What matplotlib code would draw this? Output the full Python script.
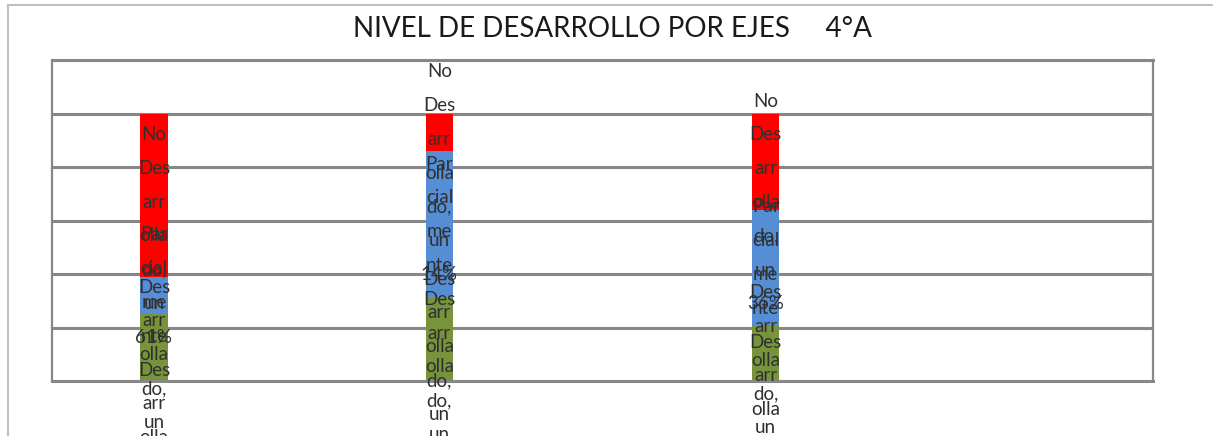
import numpy as np
import matplotlib
matplotlib.use("Agg")
import matplotlib.pyplot as plt
from matplotlib.patches import Rectangle

# --- datos ---
series = ["Desarrollado", "Parcialmente Desarrollado", "No Desarrollado"]
colores = ["#77933C", "#558ED5", "#FF0000"]
desarrollado = [25, 31, 21]
parcial = [14, 55, 43]
no_desarrollado = [61, 14, 36]
valores = [desarrollado, parcial, no_desarrollado]

titulo = "NIVEL DE DESARROLLO POR EJES     4°A"
y_ticks = [0, 20, 40, 60, 80, 100, 120]

# posicion de cada barra dentro de las 27 ranuras del eje
ranuras = 27
slot = [2, 9, 17]

# ancho aproximado de cada letra (en "letras normales")
angosta = set("lij,.'")
ancha = set("mwMW")


def partir(palabra, limite=3.0):
    trozos, actual, ancho = [], "", 0.0
    for c in palabra:
        w = 0.5 if c in angosta else 1.5 if c in ancha else 1.0
        if actual and ancho + w > limite:
            trozos.append(actual)
            actual, ancho = "", 0.0
        actual += c
        ancho += w
    if actual:
        trozos.append(actual)
    return trozos


def etiqueta(nombre, v):
    # Excel parte la etiqueta casi letra por letra porque la barra es muy angosta
    txt = f"{nombre}, un {v}%"
    lineas = []
    for palabra in txt.split():
        lineas += partir(palabra)
    return "\n".join(lineas)


fig = plt.figure(figsize=(12.13, 4.36), dpi=100)
fig.patch.set_facecolor("white")

# marco del grafico
fig.patches.append(Rectangle((8 / 1213, -0.1), 1.2, 1.1 - 5 / 436,
                             transform=fig.transFigure, fill=False,
                             edgecolor="#BFBFBF", linewidth=1.5))

ax = fig.add_axes([52 / 1213, 1 - 381 / 436, 1101 / 1213, 321 / 436])
ax.set_xlim(-0.5, ranuras - 0.5)
ax.set_ylim(y_ticks[0], y_ticks[-1])
ax.set_yticks(y_ticks)
ax.set_xticks([])
ax.tick_params(axis="y", length=0, labelleft=False)
ax.grid(axis="y", color="#878787", linewidth=2.2)
ax.set_axisbelow(True)
for s in ax.spines.values():
    s.set_color("#878787")
    s.set_linewidth(1.6)
ax.spines["top"].set_linewidth(2.2)
ax.spines["bottom"].set_linewidth(2.2)

base = np.zeros(len(slot))
for nombre, vals, col in zip(series, valores, colores):
    vals = np.array(vals, dtype=float)
    ax.bar(slot, vals, bottom=base, width=0.67, color=col, zorder=2)
    for x, b, v in zip(slot, base, vals):
        ax.annotate(etiqueta(nombre, int(v)), xy=(x, b + v / 2),
                    xytext=(0, 69), textcoords="offset pixels",
                    ha="center", va="top", fontsize=13.5, linespacing=2.2,
                    family="Lato", color="#303030", zorder=3,
                    annotation_clip=False)
    base = base + vals

fig.text(612 / 1213, 1 - 29 / 436, titulo, ha="center", va="center",
         fontsize=20, family="Lato", color="#1a1a1a")

fig.savefig("out.png", dpi=100)
